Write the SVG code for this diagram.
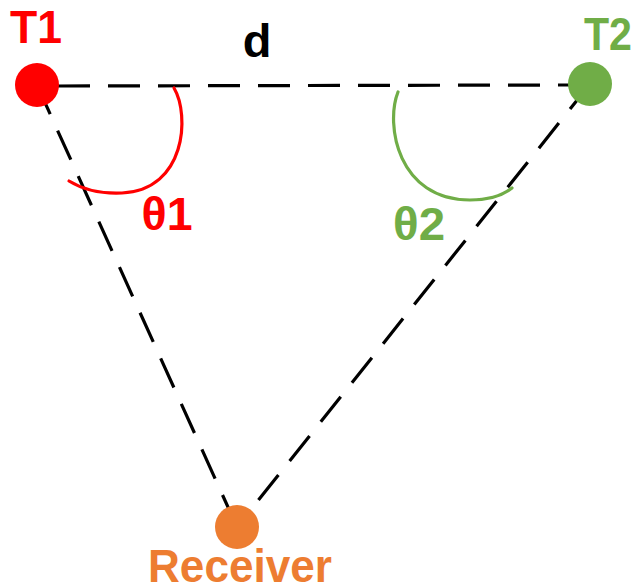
<svg xmlns="http://www.w3.org/2000/svg" width="634" height="588" viewBox="0 0 634 588">
<style>
.lbl{font-family:"Liberation Sans",Arial,sans-serif;font-weight:bold;font-size:47px;text-anchor:middle}
.edge{stroke:#000;stroke-width:3.2;stroke-dasharray:32 18;fill:none}
.arc{fill:none;stroke-width:3.2;stroke-linecap:round}
</style>
<rect width="634" height="588" fill="#fff"/>
<g id="connectors">
<line class="edge" x1="58" y1="86" x2="570" y2="85"/>
<line class="edge" x1="37" y1="85" x2="237" y2="527"/>
<line class="edge" x1="590" y1="84" x2="237" y2="527"/>
</g>
<g id="theta1">
<path class="arc" stroke="#FF0000" d="M174,88 C190,115 186,190 122,193 C100,194 82,189 69,181"/>
<text class="lbl" x="167" y="230" fill="#FF0000" textLength="51" lengthAdjust="spacingAndGlyphs">θ1</text>
</g>
<g id="theta2">
<path class="arc" stroke="#70AD47" d="M398,92 C385,125 398,200 470,200 C490,200 503,195 512,188"/>
<text class="lbl" x="419" y="240" fill="#70AD47" textLength="52" lengthAdjust="spacingAndGlyphs">θ2</text>
</g>
<g id="d">
<text class="lbl" x="257" y="57" fill="#000">d</text>
</g>
<g id="T1">
<circle cx="37" cy="85" r="22" fill="#FF0000"/>
<text class="lbl" x="36" y="43" fill="#FF0000" textLength="52" lengthAdjust="spacingAndGlyphs">T1</text>
</g>
<g id="T2">
<circle cx="590" cy="84" r="22" fill="#70AD47"/>
<text class="lbl" x="608" y="50" fill="#70AD47" textLength="48" lengthAdjust="spacingAndGlyphs">T2</text>
</g>
<g id="Receiver">
<circle cx="237" cy="527" r="22" fill="#ED7D31"/>
<text class="lbl" x="240" y="582" fill="#ED7D31" textLength="184" lengthAdjust="spacingAndGlyphs">Receiver</text>
</g>
</svg>
